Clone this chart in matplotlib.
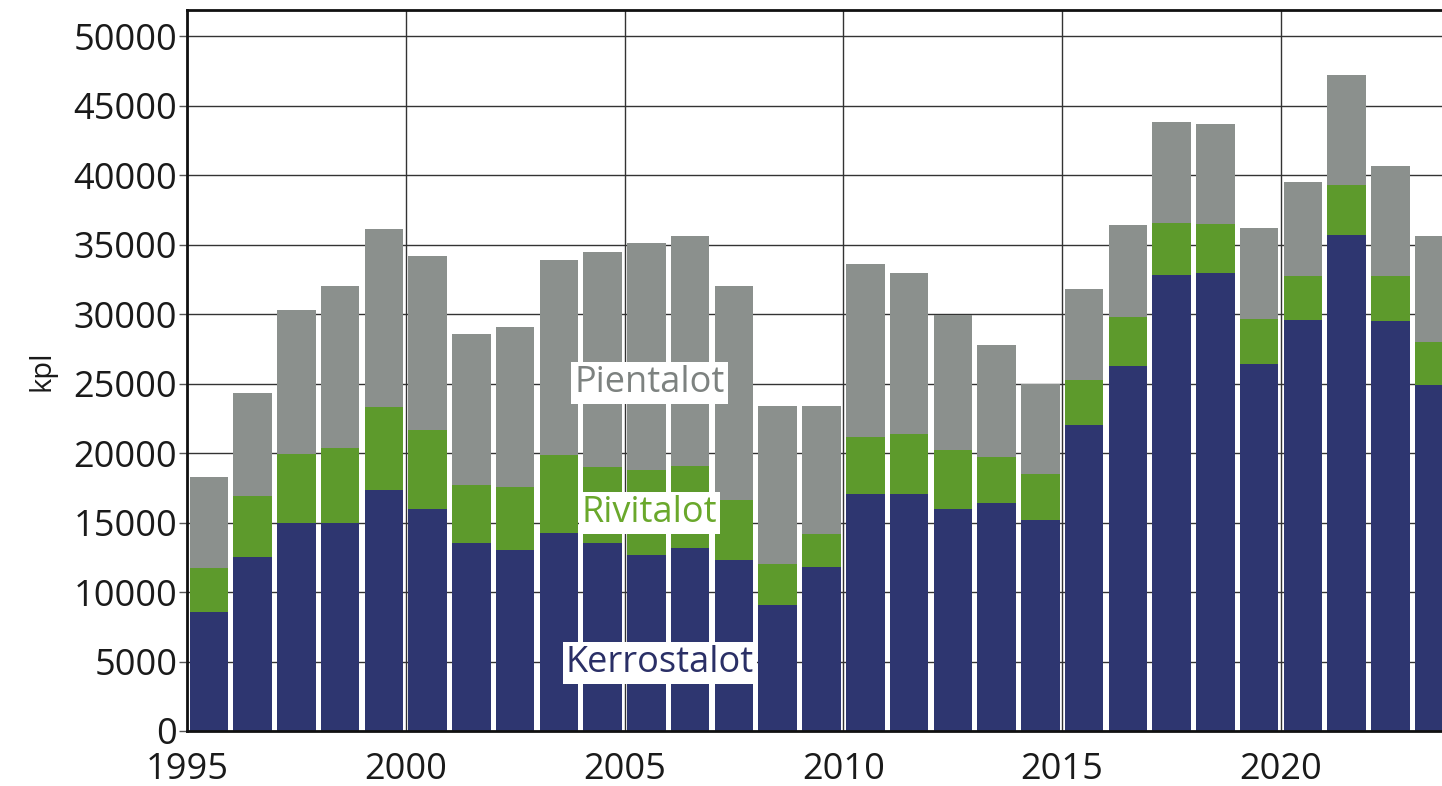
import numpy as np
import matplotlib
matplotlib.use("Agg")
from matplotlib import pyplot as plt

years = list(range(1995, 2024))

# kpl
kerrostalot = [8600, 12500, 14950, 14950, 17350, 16000, 13500, 13000, 14250, 13500,
               12650, 13200, 12300, 9050, 11800, 17050, 17050, 16000, 16400, 15200,
               22000, 26300, 32800, 33000, 26450, 29600, 35700, 29500, 24900]
rivitalot = [3150, 4400, 5000, 5450, 5950, 5700, 4200, 4550, 5600, 5500,
             6150, 5900, 4300, 2950, 2400, 4100, 4300, 4200, 3300, 3300,
             3300, 3500, 3750, 3500, 3200, 3150, 3600, 3250, 3100]
pientalot = [6500, 7400, 10350, 11600, 12850, 12500, 10900, 11550, 14050, 15450,
             16300, 16500, 15400, 11400, 9200, 12450, 11600, 9750, 8050, 6500,
             6500, 6600, 7300, 7200, 6550, 6800, 7900, 7950, 7650]

c_kerros = "#2e3670"
c_rivi = "#5d9a2c"
c_pienta = "#8b908d"

plt.rcParams["font.family"] = ["Open Sans", "DejaVu Sans"]

fig = plt.figure(figsize=(14.42, 7.86), dpi=100)
ax = fig.add_axes([187/1442, 55/786, 1 - 187/1442 + 0.01, 721/786])

x = np.array(years) + 0.5
k = np.array(kerrostalot)
r = np.array(rivitalot)
p = np.array(pientalot)
w = 0.88
ax.bar(x, k, width=w, color=c_kerros, zorder=2)
ax.bar(x, r, width=w, bottom=k, color=c_rivi, zorder=2)
ax.bar(x, p, width=w, bottom=k + r, color=c_pienta, zorder=2)

ax.set_xlim(1995, 2024.01)
ax.set_ylim(0, 51900)
ax.set_yticks(range(0, 50001, 5000))
ax.set_xticks(range(1995, 2021, 5))
ax.grid(True, color="#333333", linewidth=1.0, zorder=0)
ax.set_axisbelow(True)

for s in ["left", "top", "bottom"]:
    ax.spines[s].set_linewidth(2)
    ax.spines[s].set_color("#111111")
ax.spines["right"].set_visible(False)

ax.tick_params(axis="y", labelsize=26, length=6, width=1, color="#555555", pad=1)
ax.tick_params(axis="x", labelsize=26, length=0, pad=15)
for lab in ax.get_yticklabels() + ax.get_xticklabels():
    lab.set_color("#1a1a1a")
ax.set_ylabel("kpl", fontsize=21, labelpad=12, color="#1a1a1a")

box = dict(facecolor="white", edgecolor="none", pad=2)
ax.text(2005.57, 25050, "Pientalot", fontsize=26, color="#7d8280", ha="center",
        va="center", bbox=box, zorder=3)
ax.text(2005.57, 15700, "Rivitalot", fontsize=26, color="#6aa82c", ha="center",
        va="center", bbox=box, zorder=3)
ax.text(2005.8, 4900, "Kerrostalot", fontsize=26, color="#2a2f66", ha="center",
        va="center", bbox=box, zorder=3)

fig.savefig("out.png", dpi=100)
